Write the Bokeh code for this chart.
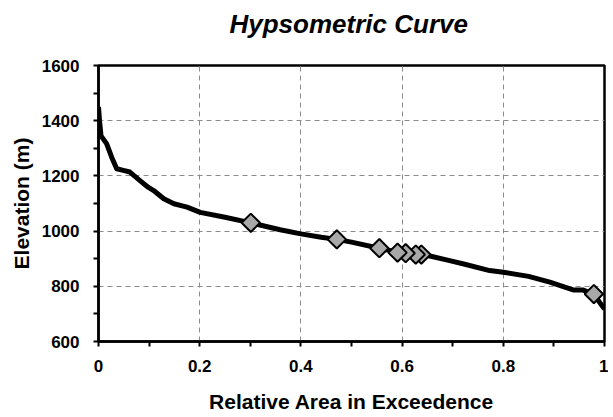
import numpy as np
from bokeh.plotting import figure
from bokeh.models import Range1d, FixedTicker, Title
from bokeh.embed import file_html
from bokeh.resources import INLINE

# Hypsometric curve (relative area in exceedence vs elevation)
curve_x = [0.000, 0.002, 0.005, 0.016, 0.026, 0.036, 0.049, 0.062, 0.082, 0.098,
           0.109, 0.129, 0.149, 0.175, 0.201, 0.250, 0.301, 0.359, 0.400, 0.440,
           0.471, 0.500, 0.555, 0.591, 0.638, 0.657, 0.694, 0.724, 0.773, 0.800,
           0.850, 0.892, 0.938, 0.957, 0.979, 1.000]
curve_y = [1450, 1400, 1345, 1317, 1268, 1226, 1220, 1214, 1183, 1159,
           1147, 1117, 1099, 1087, 1068, 1050, 1030, 1005, 990, 978,
           970, 960, 938, 924, 915, 909, 893, 880, 857, 851,
           836, 815, 787, 787, 770, 718]

marker_x = [0.301, 0.471, 0.555, 0.591, 0.607, 0.627, 0.638, 0.979]
marker_y = [1030, 970, 938, 922, 920, 915, 915, 772]

x_ticks = [0.0, 0.2, 0.4, 0.6, 0.8, 1.0]
x_tick_labels = ["0", "0.2", "0.4", "0.6", "0.8", "1"]
x_minor_ticks = [0.1, 0.3, 0.5, 0.7, 0.9]
y_ticks = [600, 800, 1000, 1200, 1400, 1600]
y_tick_labels = ["600", "800", "1000", "1200", "1400", "1600"]
y_minor_ticks = [700, 900, 1100, 1300, 1500]

TITLE = "Hypsometric Curve"
FONT = "Liberation Sans"

p = figure(frame_width=506, frame_height=276, output_backend="svg", toolbar_location=None,
           x_range=Range1d(0, 1), y_range=Range1d(600, 1600),
           min_border_left=98, min_border_right=4,
           min_border_top=65, min_border_bottom=0)

p.background_fill_color = "white"
p.border_fill_color = "white"
p.outline_line_color = "black"
p.outline_line_width = 2.5

# white (invisible) spacer between the plot frame and the title
spacer = Title(text=".", text_font=FONT, text_font_size="10px", standoff=17,
               text_color="white")
p.add_layout(spacer, "above")
main_title = Title(text=TITLE, text_font=FONT, text_font_style="bold italic",
                   text_font_size="26px", text_color="black",
                   align="left", offset=131, standoff=0)
p.add_layout(main_title, "above")

p.xaxis.ticker = FixedTicker(ticks=x_ticks, minor_ticks=x_minor_ticks)
p.yaxis.ticker = FixedTicker(ticks=y_ticks, minor_ticks=y_minor_ticks)
p.xaxis.major_label_overrides = {t: l for t, l in zip(x_ticks, x_tick_labels)}
p.yaxis.major_label_overrides = {t: l for t, l in zip(y_ticks, y_tick_labels)}

for ax in (p.xaxis, p.yaxis):
    ax.axis_line_color = "black"
    ax.axis_line_width = 2.5
    ax.major_tick_line_color = "black"
    ax.major_tick_line_width = 2
    ax.major_tick_out = 5
    ax.major_tick_in = 0
    ax.minor_tick_line_color = "black"
    ax.minor_tick_line_width = 2
    ax.minor_tick_out = 5
    ax.minor_tick_in = 0
    ax.major_label_text_font = FONT
    ax.major_label_text_font_style = "bold"
    ax.major_label_text_font_size = "17px"
    ax.major_label_text_color = "black"
    ax.axis_label_text_font = FONT
    ax.axis_label_text_font_style = "bold"
    ax.axis_label_text_font_size = "21px"
    ax.axis_label_text_color = "black"

p.xaxis.axis_label = "Relative Area in Exceedence"
p.yaxis.axis_label = "Elevation (m)"
p.xaxis.major_label_standoff = 13
p.xaxis.axis_label_standoff = 15
p.yaxis.major_label_standoff = 14
p.yaxis.axis_label_standoff = 6

p.xgrid.ticker = FixedTicker(ticks=x_ticks[1:-1])
p.ygrid.ticker = FixedTicker(ticks=y_ticks[1:-1])
for g in (p.xgrid, p.ygrid):
    g.grid_line_color = "#8a8a8a"
    g.grid_line_dash = "5 4"
    g.grid_line_width = 1

p.line(curve_x, curve_y, line_width=5, line_color="black", line_join="round")
p.scatter(marker_x[::-1], marker_y[::-1], marker="square", angle=np.pi / 4, size=13,
          fill_color="#a8a8a8", line_color="black", line_width=2)

open("out.html", "w").write(file_html(p, INLINE))
